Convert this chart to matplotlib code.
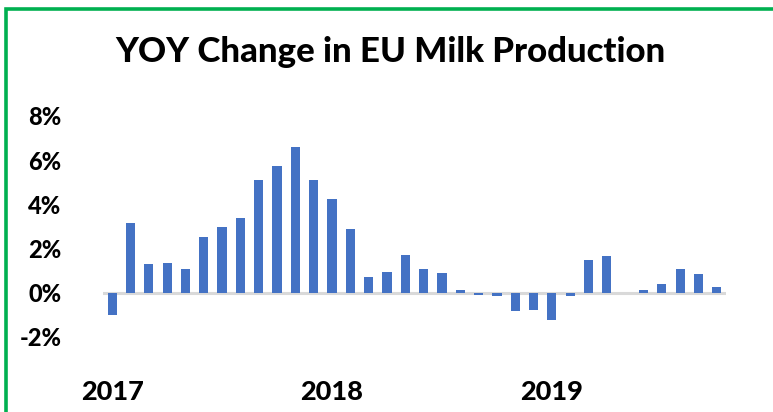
import matplotlib.pyplot as plt
from matplotlib.patches import Rectangle

# monthly YOY change in EU milk production, Jan 2017 .. Oct 2019 (%)
months = ["2017-01", "2017-02", "2017-03", "2017-04", "2017-05", "2017-06",
          "2017-07", "2017-08", "2017-09", "2017-10", "2017-11", "2017-12",
          "2018-01", "2018-02", "2018-03", "2018-04", "2018-05", "2018-06",
          "2018-07", "2018-08", "2018-09", "2018-10", "2018-11", "2018-12",
          "2019-01", "2019-02", "2019-03", "2019-04", "2019-05", "2019-06",
          "2019-07", "2019-08", "2019-09", "2019-10"]
yoy = [-1.01, 3.14, 1.31, 1.33, 1.07, 2.52, 2.96, 3.38, 5.11, 5.75, 6.61, 5.11,
       4.22, 2.88, 0.72, 0.92, 1.71, 1.06, 0.91, 0.14, -0.12, -0.16, -0.83, -0.80,
       -1.22, -0.15, 1.46, 1.66, 0.0, 0.11, 0.39, 1.06, 0.83, 0.24]
year_ticks = ["2017-01", "2018-01", "2019-01"]
year_labels = ["2017", "2018", "2019"]
y_ticks = [-2, 0, 2, 4, 6, 8]

plt.rcParams['font.family'] = ['Lato', 'DejaVu Sans']

fig = plt.figure(figsize=(7.73, 4.12), dpi=100)
ax = fig.add_axes([0.1332, 0.1823, 0.806, 0.5364])

x = list(range(len(months)))
ax.bar(x, yoy, width=0.5, color="#4472c4", zorder=3)
ax.axhline(0, color="#d9d9d9", lw=2.2, zorder=2)

ax.set_xlim(-0.5, len(months) - 0.5)
ax.set_ylim(-2, 8)
ax.set_yticks(y_ticks)
ax.set_yticklabels([f"{v}%" for v in y_ticks], fontsize=17, fontweight="black")
ax.set_xticks([months.index(m) for m in year_ticks])
ax.set_xticklabels(year_labels, fontsize=19.5, fontweight="black")
ax.tick_params(axis="y", length=0, pad=30)
ax.tick_params(axis="x", length=0, pad=31)
for s in ax.spines.values():
    s.set_visible(False)

fig.text(0.505, 0.873, "YOY Change in EU Milk Production", ha="center",
         va="center", fontsize=25, fontweight="black")

# green frame, open at right and bottom
fig.patches.append(Rectangle((6.5 / 773, -0.1), 1.2, 1 - 9 / 412 + 0.1,
                             transform=fig.transFigure, fill=False,
                             edgecolor="#00b050", lw=2.6))

fig.savefig("out.png", dpi=100)
